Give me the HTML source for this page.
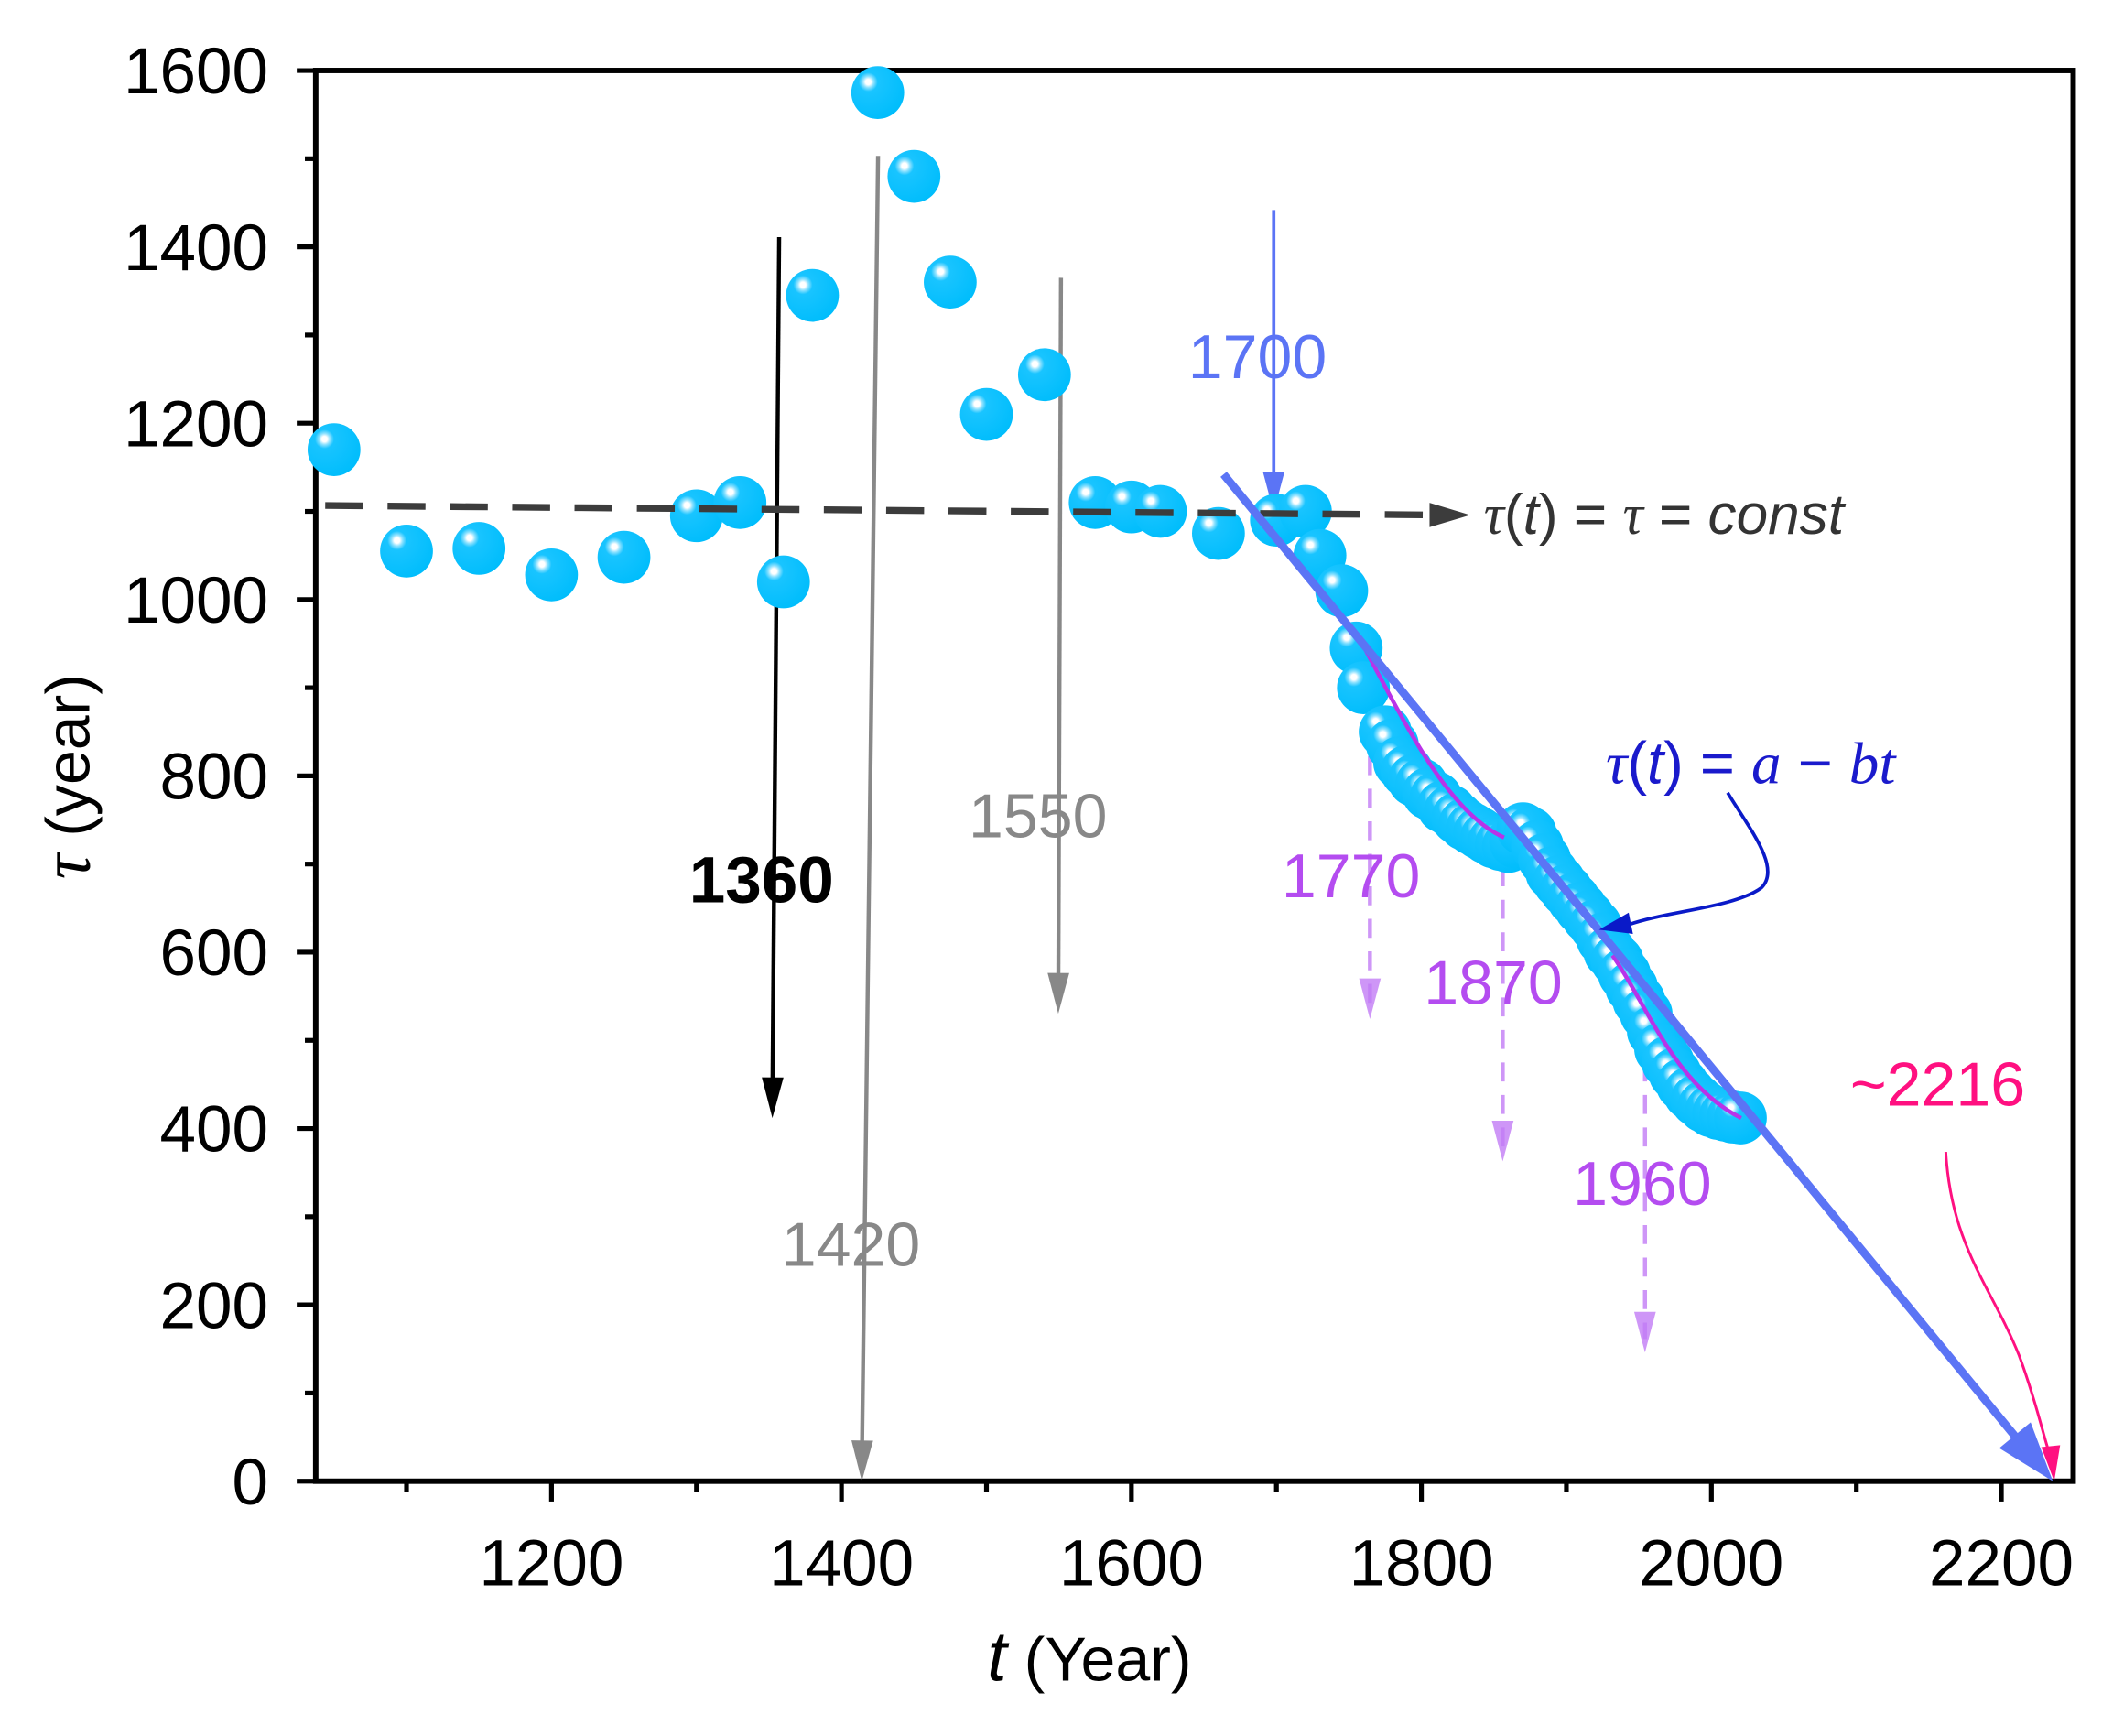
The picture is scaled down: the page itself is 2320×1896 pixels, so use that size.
<!DOCTYPE html>
<html><head><meta charset="utf-8"><style>
html,body{margin:0;padding:0;background:#fff}
svg{display:block;font-family:"Liberation Sans",sans-serif}
</style></head><body>
<svg id="chart" width="2320" height="1896" viewBox="0 0 1567.5 1281" xmlns="http://www.w3.org/2000/svg">
<defs>
<radialGradient id="ball" cx="0.32" cy="0.3" r="0.75">
<stop offset="0" stop-color="#ffffff"/><stop offset="0.07" stop-color="#ffffff"/><stop offset="0.14" stop-color="#8fe2ff"/><stop offset="0.24" stop-color="#19c4ff"/><stop offset="1" stop-color="#00bdfc"/>
</radialGradient>
</defs>
<g id="marks"></g>
</svg>
<script>
const years=[1050,1100,1150,1200,1250,1300,1330,1360,1380,1425,1450,1475,1500,1540,1575,1600,1620,1660,1700,1720,1730,1745,1755,1760,1775,1780,1785,1790,1795,1800,1805,1810,1815,1820,1825,1830,1835,1840,1845,1850,1855,1860,1865,1870,1875,1880,1885,1890,1895,1900,1905,1910,1915,1920,1925,1930,1935,1940,1945,1950,1955,1960,1965,1970,1975,1980,1985,1990,1995,2000,2005,2010,2015,2020];
const tau=[1170,1055,1058,1028,1048,1095,1110,1020,1345,1575,1480,1360,1210,1255,1110,1105,1100,1075,1090,1100,1050,1010,945,900,850,835,815,805,795,790,780,775,765,760,752,745,740,735,730,725,722,720,725,740,735,720,705,690,680,670,660,650,640,630,615,600,590,575,560,545,530,510,490,475,462,450,440,432,425,420,417,415,413,412];
const xTicks=[1200,1400,1600,1800,2000,2200];
const yTicks=[0,200,400,600,800,1000,1200,1400,1600];
const NS="http://www.w3.org/2000/svg";
const X=t=>407+(t-1200)*1.07;
const Y=v=>1093-v*0.6506;
const g=document.getElementById('marks');
function mk(tag,attrs,parent){const e=document.createElementNS(NS,tag);for(const k in attrs)e.setAttribute(k,attrs[k]);(parent||g).appendChild(e);return e;}
function txt(s,attrs){const e=mk('text',attrs);e.textContent=s;return e;}
function arrowHead(x,y,dx,dy,size,w,color,opacity){const L=Math.hypot(dx,dy),ux=dx/L,uy=dy/L;const bx=x-ux*size,by=y-uy*size;return mk('polygon',{points:`${x},${y} ${bx-uy*w},${by+ux*w} ${bx+uy*w},${by-ux*w}`,fill:color,'fill-opacity':opacity||1});}

const frame=mk('rect',{x:233,y:52,width:1297,height:1041,fill:'none',stroke:'#000','stroke-width':4});


for(let v=0;v<=1600;v+=100){const major=v%200===0;const tk=mk('line',{x1:233,x2:major?219:225,y1:Y(v),y2:Y(v),stroke:'#000','stroke-width':3.5});

}
yTicks.forEach(v=>{const t=txt(String(v),{x:198,y:Y(v)+17,'font-size':48,'text-anchor':'end',fill:'#000'});

});
for(let v=1100;v<=2200;v+=100){const major=v%200===0;const tk=mk('line',{x1:X(v),x2:X(v),y1:1093,y2:major?1108:1101,stroke:'#000','stroke-width':3.5});

}
xTicks.forEach(v=>{const t=txt(String(v),{x:X(v),y:1170,'font-size':48,'text-anchor':'middle',fill:'#000'});

});
const yl=txt('',{transform:'translate(66,573) rotate(-90)','font-size':46,'text-anchor':'middle'});
yl.innerHTML='<tspan font-family="Liberation Serif" font-style="italic" font-size="52">τ</tspan>  (year)';


const xl=txt('',{x:804,y:1240,'font-size':46,'text-anchor':'middle'});
xl.innerHTML='<tspan font-style="italic" font-size="52">t</tspan> (Year)';



function vArrow(name,x1,y1,x2,y2,color,w,dash,op){const l=mk('line',{x1,y1,x2,y2:y2-10,stroke:color,'stroke-width':w,'stroke-dasharray':dash||'none','stroke-opacity':op||1});


arrowHead(x2,y2,x2-x1,y2-y1,30,8,color,op);}
vArrow('arrow-1360',575,175,570,825,'#000',3);
vArrow('arrow-1420',648,115,636,1093,'#888',3);
vArrow('arrow-1550',783,205,781,748,'#888',3);
vArrow('arrow-1700',940,155,940,378,'#5b74f5',2.5);
vArrow('arrow-1770',1011,510,1011,752,'#c27cf5',3,'14 10',0.8);
vArrow('arrow-1870',1109,640,1109,857,'#c27cf5',3,'14 10',0.8);
vArrow('arrow-1960',1214,760,1214,998,'#c27cf5',3,'14 10',0.8);

years.forEach((t,i)=>{const c=mk('circle',{cx:X(t),cy:Y(tau[i]),r:19.5,fill:'url(#ball)'});

});

const dl=mk('line',{x1:240,y1:373,x2:1060,y2:380,stroke:'#3c3c3c','stroke-width':5,'stroke-dasharray':'28 18'});


arrowHead(1085,380,1,0,30,9,'#3c3c3c');
const ct=txt('',{x:1095,y:394,'font-size':42,fill:'#333'});
ct.innerHTML='<tspan font-family="Liberation Serif" font-style="italic">τ</tspan>(<tspan font-style="italic">t</tspan>) =  <tspan font-family="Liberation Serif" font-style="italic">τ</tspan>  = <tspan font-style="italic">const</tspan>';



const mc=mk('path',{d:'M1008,480 C1040,540 1070,600 1110,618 M1190,705 C1215,740 1235,800 1285,825',fill:'none',stroke:'#b833e8','stroke-width':3});



const fl=mk('line',{x1:903,y1:350,x2:1493,y2:1067,stroke:'#5b74f5','stroke-width':6});


arrowHead(1515,1093,612,743,44,15,'#5b74f5');

const bc=mk('path',{d:'M1275,585 C1290,610 1315,640 1300,655 C1280,670 1230,672 1200,683',fill:'none',stroke:'#0a1ac8','stroke-width':2.5});


arrowHead(1180,686,-1,0.2,24,8,'#0a1ac8');
const pc=mk('path',{d:'M1436,850 C1440,920 1470,950 1490,1000 C1505,1040 1510,1070 1514,1075',fill:'none',stroke:'#ff1080','stroke-width':2});


arrowHead(1516,1093,0.1,1,26,7,'#ff1080');

function label(name,s,x,y,color,extra){const t=txt(s,Object.assign({x,y,'font-size':46,'text-anchor':'middle',fill:color},extra||{}));

return t;}
label('label-1360','1360',562,666,'#000',{'font-weight':'bold','font-size':48});
label('label-1420','1420',628,934,'#888');
label('label-1550','1550',766,618,'#888');
label('label-1700','1700',928,279,'#5b74f5');
label('label-1770','1770',997,662,'#b44cf0');
label('label-1870','1870',1102,741,'#b44cf0');
label('label-1960','1960',1212,889,'#b44cf0');
label('label-2216','~2216',1430,816,'#ff1080');
const ft=txt('',{x:1292,y:578,'font-size':44,'text-anchor':'middle',fill:'#1a1acc'});
ft.innerHTML='<tspan font-family="Liberation Serif" font-style="italic">τ</tspan>(<tspan font-style="italic">t</tspan>) = <tspan font-family="Liberation Serif" font-style="italic">a</tspan> − <tspan font-family="Liberation Serif" font-style="italic">bt</tspan>';


</script>
</body></html>
